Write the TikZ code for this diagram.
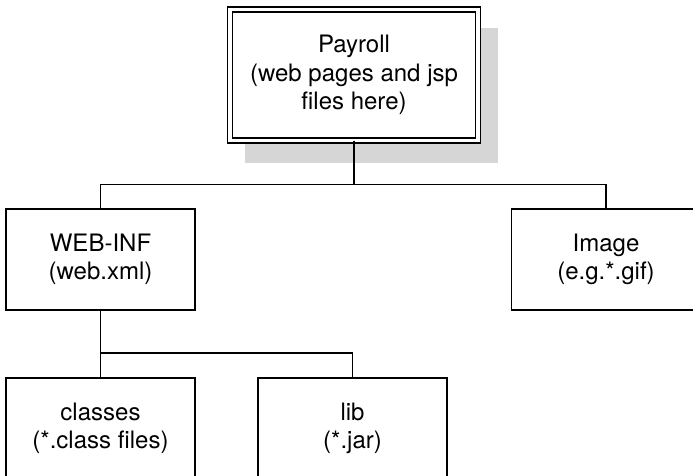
\documentclass[tikz,border=0pt]{standalone}
\usepackage{fontspec}
\setmainfont{TeX Gyre Heros}
\begin{document}
\begin{tikzpicture}[x=1pt,y=-1pt,
  box/.style={draw=black,line width=1.3pt,fill=white,minimum width=189pt,minimum height=101pt,
    inner sep=0pt,outer sep=0pt,align=center,font=\fontsize{24}{28.5}\selectfont},
  topbox/.style={box,double=white,double distance=3.6pt,line width=1.3pt,minimum width=248pt,minimum height=131pt},
  conn/.style={draw=black,line width=1.3pt}]
\useasboundingbox (0,0) rectangle (693,476);
\fill[black!16] (245,28) rectangle (498,163);
\node[topbox] (pay) at (354,75) {Payroll\\(web pages and jsp\\files here)};
\node[box] (web) at (100.5,259.5) {WEB-INF\\(web.xml)};
\node[box] (img) at (606,259.5) {Image\\(e.g.*.gif)};
\node[box] (cls) at (100.5,428.5) {classes\\(*.class files)};
\node[box] (lib) at (352.5,428.5) {lib\\(*.jar)};
\coordinate (j1) at (354,184.5);
\coordinate (j2) at (100.5,353);
\draw[conn] (pay.south) -- (j1);
\draw[conn] (web.north) |- (j1);
\draw[conn] (img.north) |- (j1);
\draw[conn] (web.south) -- (j2);
\draw[conn] (cls.north) -- (j2);
\draw[conn] (lib.north) |- (j2);
\end{tikzpicture}
\end{document}
